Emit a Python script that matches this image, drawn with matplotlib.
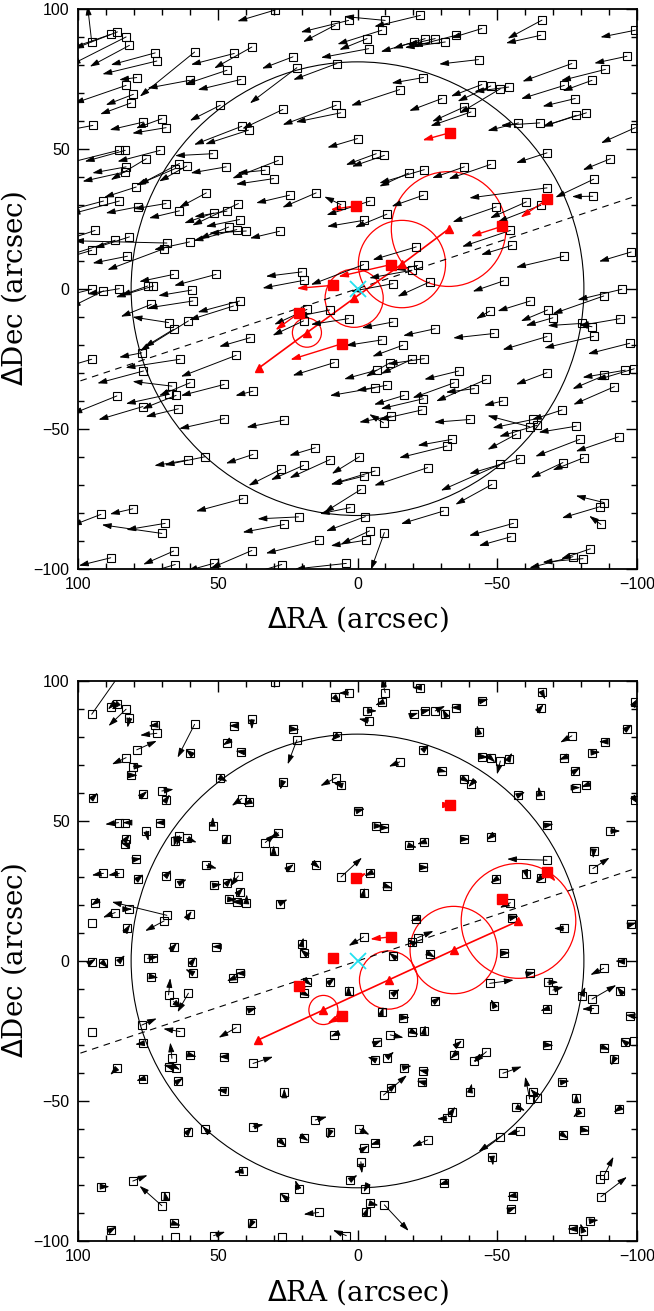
import matplotlib
matplotlib.use('Agg')
import matplotlib.pyplot as plt
from matplotlib.patches import Circle, FancyArrowPatch
from matplotlib.ticker import MultipleLocator

# field stars: offsets (arcsec) and relative proper-motion vectors (bottom panel)
star_ra = [
    95.1, 88.3, 85.9, 82.8, 81.6, 72.4, 71.8, 79.0, 82.8, 80.2,
    81.1, 58.3, 60.1, 44.1, 37.8, 46.7, 41.7, 49.1, 41.4, 39.0,
    51.8, 47.0, 33.0, 30.0, 94.7, 76.6, 70.0, 68.5, 85.5, 83.1,
    82.8, 83.1, 75.6, 70.6, 63.7, 65.2, 61.1, 79.2, 90.9, 85.2,
    78.7, 68.5, 63.7, 54.1, 51.5, 46.7, 42.6, 42.2, 46.1, 43.2,
    39.8, 93.9, 86.7, 81.6, 68.2, 69.2, 60.1, 82.3, 95.1, 65.8,
    50.6,
    95.1, 90.9, 85.2, 75.1, 73.0, 59.3, 58.9, 73.8, 44.4, 42.2,
    67.6, 65.8, 60.5, 38.4, 77.2, 63.5, 43.4, 76.6, 95.1, 66.4,
    67.3, 64.9, 59.9, 47.7, 37.4, 86.1, 76.8, 64.1, 47.6, 54.5,
    60.8, 37.4, 41.0, 80.4, 91.8, 70.0, 68.8, 88.3, 65.8, 65.2,
    51.5, 37.8,
    29.5, -9.9, 3.2, 8.0, -8.7, -3.4, -4.0, -22.5, -20.3, -24.2,
    -27.8, -31.4, 23.1, 21.7, 7.4, -23.6, -15.1, -30.2, 26.7, 7.6,
    6.0, 0.0, -6.7, -9.6, -18.3, -23.9, 28.3, 24.3, 14.8, -23.6,
    5.9, -4.5, -10.5, -2.2, 27.9, -21.0, -21.5, -19.5, -25.8, -2.2,
    -12.7, 19.9, 19.1,
    -66.0, -65.6, -44.5, -35.3, -99.4, -43.3, -96.4, -76.7, -88.7, -44.5,
    -47.7, -51.1, -54.1, -74.0, -83.9, -77.9, -38.2, -40.6, -78.3, -81.9,
    -57.6, -65.2, -99.4, -67.8, -90.5, -38.2, -47.7, -67.8, -84.5, -84.2,
    -49.6, -60.4, -65.6, -54.7, -55.3, -73.8, -97.9, -52.3,
    18.1, 19.3, 10.0, 3.2, -12.7, -27.8, -8.7, -16.2, -19.5, -23.9,
    -11.7, -6.9, 8.3, -6.3, -10.5, -16.7, -23.6, -23.1, -9.3, -12.0,
    26.2, 15.1, 27.4, 19.3, 9.8, -0.7, -6.3, -2.4, -25.1, -32.0,
    -1.2, 2.6, 21.1, -2.8, -30.8, 26.2, -4.3, -9.6, -3.1, 13.9,
    4.0, 27.1,
    -61.8, -47.3, -68.0, -69.9, -88.1, -94.6, -80.3, -83.9, -94.0, -84.5,
    -97.4, -48.9, -67.8, -36.2, -34.6, -41.8, -46.1, -67.8, -88.3, -95.8,
    -99.0, -91.9, -52.0, -73.2, -40.3, -61.6, -62.8, -64.2, -78.3, -79.5,
    -93.4, -56.8, -33.8, -58.0, -51.1, -73.5, -80.9, -48.1, -88.3, -86.6,
    -87.1, -55.8, -54.9, -77.1, -80.7, -83.3,
]
star_dec = [
    88.1, 90.8, 91.7, 89.9, 86.9, 84.2, 81.3, 75.4, 72.6, 69.4,
    66.3, 84.5, 74.4, 84.0, 86.3, 78.0, 74.7, 65.5, 58.0, 56.6,
    48.2, 43.5, 42.3, 39.3, 58.3, 59.5, 60.7, 57.5, 49.4, 49.4,
    43.5, 41.7, 46.4, 49.4, 44.7, 42.9, 43.8, 36.3, 31.3, 31.3,
    29.2, 30.4, 27.8, 34.2, 27.0, 27.7, 30.4, 24.7, 22.0, 21.1,
    20.6, 20.8, 17.3, 18.5, 16.3, 14.3, 16.7, 11.6, 13.7, 5.1,
    5.1,
    -0.2, -0.8, 0.0, 0.95, 0.95, -0.5, -4.4, -5.6, -6.2, -4.4,
    -12.1, -14.5, -11.5, -17.5, -22.9, -25.2, -23.8, -29.4, -25.2, -34.8,
    -37.7, -38.1, -33.6, -34.2, -36.6, -38.3, -42.1, -42.9, -46.4, -60.0,
    -61.2, -59.2, -75.0, -78.6, -80.6, -87.4, -83.8, -96.1, -93.7, -98.5,
    -98.1, -93.5,
    99.5, 95.8, 95.8, 94.1, 92.3, 89.3, 85.7, 97.6, 88.1, 89.3,
    89.3, 88.1, 82.8, 78.9, 80.4, 75.4, 71.1, 67.9, 64.0, 65.5,
    62.8, 53.6, 48.2, 47.6, 41.3, 42.5, 45.8, 33.4, 34.2, 33.4,
    30.0, 31.3, 26.6, 24.4, 20.5, 14.9, 8.3, 6.6, 2.4, 8.6,
    1.8, 6.0, 3.0,
    95.9, 90.5, 92.9, 90.5, 92.3, 81.8, 83.0, 80.4, 78.3, 72.9,
    72.4, 71.4, 72.0, 72.6, 74.4, 67.9, 64.9, 63.1, 61.9, 62.8,
    59.2, 59.2, 57.5, 48.5, 46.4, 43.5, 44.4, 36.0, 39.1, 33.0,
    29.2, 31.0, 29.8, 20.8, 15.5, 11.6, 13.1, 2.8,
    -7.4, -11.5, -7.6, -10.7, -11.9, -14.3, -18.3, -20.2, -25.2, -25.0,
    -26.4, -29.1, -26.4, -35.4, -34.5, -38.1, -39.3, -43.3, -47.9, -45.5,
    -46.9, -56.8, -64.5, -63.1, -61.0, -60.0, -65.1, -66.9, -63.9, -56.2,
    -71.7, -78.2, -81.5, -81.4, -79.4, -84.2, -86.5, -87.1, -89.8, -89.8,
    -98.1, -98.5,
    -4.4, -8.0, -7.6, -10.4, -2.6, -0.2, -12.4, -13.6, -10.7, -17.0,
    -19.5, -16.0, -17.1, -29.4, -33.6, -35.7, -32.4, -30.0, -31.0, -29.1,
    -28.6, -35.0, -40.1, -43.3, -46.7, -49.3, -46.7, -48.8, -49.1, -53.8,
    -52.9, -52.0, -53.8, -60.7, -62.7, -62.1, -60.4, -69.9, -76.4, -77.9,
    -84.2, -83.8, -88.6, -95.7, -96.4, -92.9,
]
rel_dra = [
    -12.0, 1.0, 2.0, 6.3, 0.7, 2.4, 6.0, -7.2, 5.1, -3.6,
    -2.5, 6.1, 1.5, 2.0, 0.0, 1.5, 2.0, -2.6, 3.6, 2.0,
    0.0, -0.8, -3.6, 0.0, -1.8, -1.4, -4.2, -1.4, 4.8, 1.0,
    -1.4, 1.8, -0.8, 1.8, 1.0, 0.5, -3.6, -2.0, 4.2, 4.0,
    -2.1, -2.0, -2.6, -3.8, -3.0, -1.8, 3.0, -1.4, -3.0, 2.0,
    -0.2, 1.5, 4.4, -1.0, 19.7, 6.8, -0.8, -1.0, 0.0, -1.2,
    1.5,
    -1.5, -1.8, -2.0, -3.9, 0.0, -1.5, 2.7, -2.6, 2.4, 1.5,
    -0.6, -3.0, 3.9, -2.4, -5.4, 6.0, 6.3, 3.0, 0.0, 0.6,
    2.1, -1.4, -2.4, 2.0, -7.2, 2.4, 2.4, -1.8, 2.7, 1.0,
    -1.6, -3.8, 3.3, -5.3, -3.1, 8.0, 0.4, -2.1, -2.6, 0.0,
    -4.2, 1.2,
    0.0, 1.2, 3.6, -2.0, 2.4, -3.6, 3.6, 3.0, -1.5, -2.0,
    -3.6, 1.0, -2.4, 3.3, 2.1, -2.1, 3.9, -1.8, 1.0, 5.7,
    2.6, -2.7, -2.6, -1.9, -3.0, 2.6, 3.0, -1.5, -1.4, -2.1,
    -7.5, 2.1, -2.1, -0.4, -2.9, 2.1, -5.7, 1.8, -2.0, 5.4,
    1.5, -0.6, 1.4,
    -1.2, -1.0, -2.4, 2.0, -1.0, 0.6, -1.8, 4.2, 2.4, -2.4,
    -1.6, 1.2, -1.2, 2.0, -3.0, -1.8, -2.0, 1.0, -1.5, 2.0,
    -2.4, 0.4, -1.2, -2.4, -3.6, -2.0, 1.6, 14.3, 0.2, -6.0,
    2.1, -0.5, 2.0, 3.8, -2.4, 3.6, -2.0, -2.4,
    -1.8, -2.4, -2.0, 0.0, -2.4, -2.0, -0.6, -2.6, -2.4, -0.4,
    -4.8, -1.8, 1.4, 2.7, -2.6, -2.7, 1.8, 2.0, -8.4, -2.1,
    0.0, -4.2, -1.9, -1.8, 1.0, -3.6, 1.8, -1.5, 5.6, 3.6,
    -0.4, -2.6, 1.2, 0.6, 1.8, 1.4, -3.2, -8.7, -0.8, 5.4,
    4.8, 0.0,
    -1.8, -8.6, -3.9, -3.8, 4.8, 2.4, -1.2, -8.7, 1.2, 4.2,
    1.5, 1.2, 2.4, -1.2, 1.4, -3.3, 4.5, -2.4, -2.1, 1.8,
    0.0, 1.2, -6.8, -2.7, -0.6, 1.6, 1.0, 0.0, 0.0, 2.4,
    1.8, -3.2, -1.2, 4.5, 7.8, -2.0, -2.4, -0.4, -3.3, 0.0,
    -9.3, 2.4, -2.0, 2.1, 1.0, -3.0,
]
rel_ddec = [
    17.0, -1.0, -2.0, -6.0, -3.6, -0.3, -0.7, 3.2, -2.4, 0.2,
    0.0, -11.9, 1.2, 0.0, -3.6, -1.0, 0.3, -1.5, -2.6, -1.0,
    3.3, 1.8, 3.0, 2.0, 1.8, 1.2, 0.6, 2.0, -0.6, 0.0,
    1.8, 0.6, -3.6, 0.0, -3.6, -2.0, -1.5, 0.3, -0.7, -0.7,
    1.8, 2.1, 1.4, -1.2, 0.4, 2.0, -3.8, 1.5, -0.2, 0.0,
    3.2, -1.0, -1.8, 0.0, 4.8, -3.6, 1.2, 1.5, 0.0, 1.4,
    0.0,
    1.0, -1.8, 2.1, 0.6, 0.0, 2.0, 1.5, -0.4, -1.0, 0.0,
    6.0, -2.4, -6.8, 0.8, 2.4, 1.0, -3.6, -0.4, 0.0, 5.7,
    0.6, -0.8, -0.6, 0.0, 2.4, -2.4, -0.7, 1.2, 0.4, 1.0,
    2.0, 0.8, -0.5, 2.1, 0.0, 7.1, 1.7, 1.2, -0.8, 0.0,
    1.4, -2.3,
    0.0, 5.4, -0.2, -2.0, -1.0, 0.0, 0.8, 0.0, 0.5, 0.5,
    1.8, 2.0, -0.2, -8.7, -1.8, 2.0, -1.7, -0.4, -2.9, -3.0,
    0.7, 0.8, 0.0, 0.0, -0.8, -0.8, -2.4, 1.2, -1.2, 0.0,
    6.9, -1.0, -0.7, 1.8, 1.5, -0.6, 2.4, 1.2, -1.2, -3.2,
    1.2, 2.4, 1.2,
    -2.6, 1.2, 0.6, 0.0, 1.5, 2.4, 1.5, -2.4, 0.0, -0.2,
    -1.5, -4.8, 2.4, -0.8, 0.2, 1.2, -1.2, -1.0, 0.0, -0.8,
    1.2, 3.1, -1.5, 0.4, 0.0, 0.0, -1.2, 0.4, -2.5, 3.9,
    -1.4, -1.8, -2.0, -1.8, 0.6, 0.0, 0.6, 0.2,
    -1.4, -1.2, 1.7, 1.9, 1.9, 1.5, 2.0, 0.0, -1.2, 2.1,
    -1.0, 0.8, -0.6, 1.2, 2.1, 0.7, 0.4, 0.5, 7.1, 1.8,
    1.4, 1.2, -1.8, -1.2, -2.6, -2.1, -0.6, 1.0, -2.4, -0.2,
    -4.2, 1.8, 3.3, -1.2, -0.6, 1.2, -0.8, -9.3, 2.0, -0.7,
    2.0, 0.0,
    0.4, 1.2, 0.0, 1.2, -2.4, 0.2, 3.2, 5.0, 1.5, -0.2,
    0.2, 2.4, -0.7, 1.0, -1.4, 2.7, -3.8, -0.2, -0.8, 1.4,
    0.0, -2.4, 2.4, 0.5, 3.0, 8.0, 1.0, 0.0, 1.8, -2.1,
    -1.2, -1.5, 1.8, -1.4, -5.4, -1.4, -0.4, -3.2, 6.5, 0.0,
    7.1, -0.4, 0.8, 0.0, 2.7, 0.4,
]

# mean field motion seen in the upper panel (arcsec per plotted unit)
field_dra, field_ddec = 13.5, -4.0

# red objects (members) and their vectors in each panel
red_ra = [-33.1, -67.9, -51.8, -11.9, 0.5, 8.7, 21.1, 5.7]
red_dec = [55.7, 31.9, 22.3, 8.6, 29.6, 1.2, -8.8, -19.7]
red_top_dra = [9.9, 9.6, 11.3, 18.8, 9.2, 13.1, 8.3, 18.4]
red_top_ddec = [-2.7, -6.5, -3.6, -4.3, -1.4, -1.1, -6.0, -5.7]
red_bot_dra = [-1.0, -3.0, 1.8, 7.4, -3.8, 0.0, -3.0, 5.1]
red_bot_ddec = [0.0, -3.6, 1.0, -0.8, 1.8, 0.0, -1.0, -2.6]

# trajectory points (triangles) and their error circles
traj_top_ra = [35.4, 18.1, 1.2, -15.9, -32.6]
traj_top_dec = [-28.4, -15.7, -3.4, 8.8, 21.3]
traj_bot_ra = [35.5, 12.2, -11.1, -34.4, -57.6]
traj_bot_dec = [-28.2, -17.5, -6.8, 3.9, 14.3]
traj_err = [0.0, 5.2, 10.4, 15.6, 20.5]

big_radius = 81.0
line_slope = -0.332


def vec(ax, x, y, dx, dy, color='black', lw=0.7):
    if abs(dx) + abs(dy) < 0.4:
        return
    a = FancyArrowPatch((x, y), (x + dx, y + dy),
                        arrowstyle='-|>,head_length=0.7,head_width=0.22',
                        mutation_scale=8, color=color, lw=lw,
                        shrinkA=0, shrinkB=0, zorder=3)
    ax.add_patch(a)


def panel(ax, dra, ddec, rdra, rddec, tra, tdec):
    ax.add_patch(Circle((0, 0), big_radius, fill=False, color='black', lw=0.8))
    xs = [-110, 110]
    ax.plot(xs, [line_slope * v for v in xs], color='black', lw=0.8,
            dashes=(6, 5))

    ax.plot(star_ra, star_dec, 's', mfc='none', mec='black', ms=5.8, mew=0.8,
            zorder=4)
    for i in range(len(star_ra)):
        vec(ax, star_ra[i], star_dec[i], dra[i], ddec[i])

    for i in range(len(traj_err)):
        if traj_err[i] > 0:
            ax.add_patch(Circle((tra[i], tdec[i]), traj_err[i], fill=False,
                                color='red', lw=0.9))
    ax.plot(tra, tdec, color='red', lw=1.2)
    ax.plot(tra, tdec, '^', color='red', ms=6, zorder=5)

    ax.plot(red_ra, red_dec, 's', color='red', ms=6.5, zorder=5)
    for i in range(len(red_ra)):
        vec(ax, red_ra[i], red_dec[i], rdra[i], rddec[i], color='red', lw=1.0)

    ax.plot([0], [0], 'x', color='#22e0f0', ms=12, mew=1.3, zorder=6)

    ax.set_xlim(100, -100)
    ax.set_ylim(-100, 100)
    ax.set_xticks([100, 50, 0, -50, -100])
    ax.set_yticks([-100, -50, 0, 50, 100])
    ax.xaxis.set_minor_locator(MultipleLocator(10))
    ax.yaxis.set_minor_locator(MultipleLocator(10))
    ax.tick_params(which='both', direction='in', top=True, right=True,
                   width=1.0, labelsize=11.5, pad=6)
    ax.tick_params(which='major', length=8)
    ax.tick_params(which='minor', length=4)
    for lab in ax.get_xticklabels() + ax.get_yticklabels():
        lab.set_family('Liberation Sans')
    for s in ax.spines.values():
        s.set_linewidth(1.3)
    ax.set_xlabel(r'$\Delta$RA (arcsec)', family='DejaVu Serif', fontsize=20,
                  labelpad=9)
    ax.set_ylabel(r'$\Delta$Dec (arcsec)', family='DejaVu Serif', fontsize=20)
    ax.yaxis.set_label_coords(-0.088, 0.5)


fig = plt.figure(figsize=(6.54, 13.11), dpi=100)
ax1 = fig.add_axes([0.1193, 0.5662, 0.8547, 0.4272])
ax2 = fig.add_axes([0.1193, 0.0534, 0.8547, 0.4272])

top_dra = [d + field_dra for d in rel_dra]
top_ddec = [d + field_ddec for d in rel_ddec]
panel(ax1, top_dra, top_ddec, red_top_dra, red_top_ddec, traj_top_ra, traj_top_dec)
panel(ax2, rel_dra, rel_ddec, red_bot_dra, red_bot_ddec, traj_bot_ra, traj_bot_dec)

fig.savefig('out.png', dpi=100)
